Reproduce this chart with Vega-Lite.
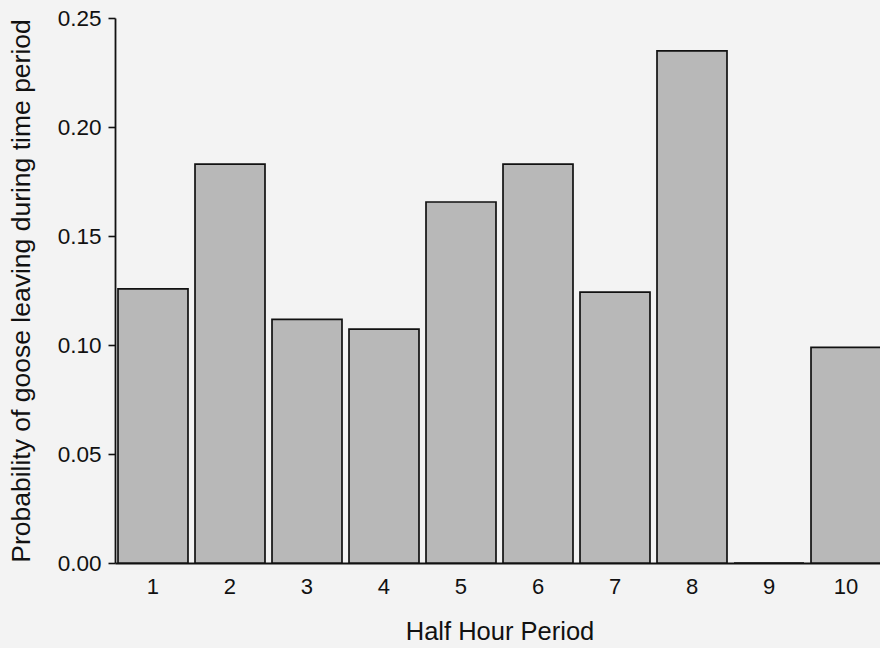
{
  "$schema": "https://vega.github.io/schema/vega-lite/v6.json",
  "autosize": {"type": "none"},
  "padding": {"left": 115, "top": 18, "right": 0, "bottom": 85},
  "width": 765,
  "height": 545,
  "background": "#f3f3f3",
  "data": {
    "values": [
      {"period": 1, "prob": 0.1257},
      {"period": 2, "prob": 0.183},
      {"period": 3, "prob": 0.1118},
      {"period": 4, "prob": 0.1073},
      {"period": 5, "prob": 0.1656},
      {"period": 6, "prob": 0.183},
      {"period": 7, "prob": 0.1243},
      {"period": 8, "prob": 0.2349},
      {"period": 9, "prob": 0},
      {"period": 10, "prob": 0.0989}
    ]
  },
  "config": {
    "view": {"stroke": null},
    "font": "Liberation Sans",
    "axis": {"grid": false, "domainColor": "#111111", "domainWidth": 1.8, "tickColor": "#111111", "tickWidth": 1.6, "labelColor": "#111111", "titleColor": "#111111", "labelFont": "Liberation Sans", "titleFont": "Liberation Sans", "titleFontWeight": "normal"}
  },
  "mark": {"type": "bar", "fill": "#b8b8b8", "stroke": "#111111", "strokeWidth": 1.7, "clip": true},
  "encoding": {
    "x": {
      "field": "period",
      "type": "ordinal",
      "sort": null,
      "scale": {"range": [0, 769], "paddingInner": 0.091, "paddingOuter": 0.039},
      "axis": {"title": "Half Hour Period", "labelAngle": 0, "ticks": false, "tickSize": 0, "labelPadding": 13, "labelFontSize": 22, "titleFontSize": 25.5, "titlePadding": 22}
    },
    "y": {
      "field": "prob",
      "type": "quantitative",
      "scale": {"domain": [0, 0.25], "nice": false, "zero": true},
      "axis": {"title": "Probability of goose leaving during time period", "values": [0, 0.05, 0.1, 0.15, 0.2, 0.25], "format": ".2f", "tickSize": 7, "labelPadding": 7, "labelFontSize": 22.5, "titleFontSize": 26.5, "titlePadding": 22}
    }
  }
}
